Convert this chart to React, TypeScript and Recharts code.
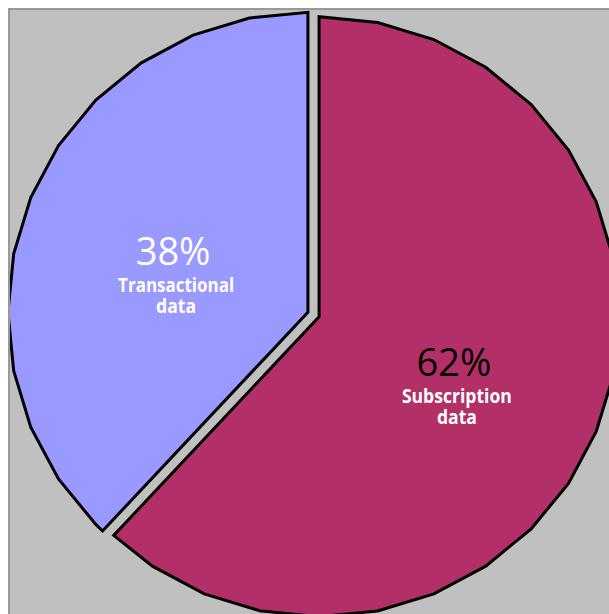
import { PieChart, Pie, Cell } from 'recharts';

const categories = ['Subscription data', 'Transactional data'];
const shares = [62, 38];

const data = categories.map((name, i) => ({ name, value: shares[i] }));

const FILLS = ['#B23067', '#9999FF'];
const PCT_COLORS = ['#000000', '#FFFFFF'];
const EXPLODE = 6;
const STEP = 11.25; // the old-style pie is drawn as a 32-gon
const RAD = Math.PI / 180;

const polar = (cx: number, cy: number, r: number, a: number) => ({
  x: cx + Math.cos(-a * RAD) * r,
  y: cy + Math.sin(-a * RAD) * r,
});

function PolySlice(props: any) {
  const { cx, cy, outerRadius, startAngle, endAngle, midAngle, fill } = props;
  const off = polar(0, 0, EXPLODE, midAngle);
  const ox = cx + off.x;
  const oy = cy + off.y;
  const pts: { x: number; y: number }[] = [{ x: ox, y: oy }];
  pts.push(polar(ox, oy, outerRadius, startAngle));
  // vertices every STEP degrees, measured from the top
  const lo = Math.min(startAngle, endAngle);
  const hi = Math.max(startAngle, endAngle);
  const dir = endAngle < startAngle ? -1 : 1;
  const angles: number[] = [];
  for (let k = -40; k <= 40; k++) {
    const a = 90 + k * STEP;
    if (a > lo + 0.01 && a < hi - 0.01) angles.push(a);
  }
  angles.sort((a, b) => (dir < 0 ? b - a : a - b));
  angles.forEach(a => pts.push(polar(ox, oy, outerRadius, a)));
  pts.push(polar(ox, oy, outerRadius, endAngle));
  const d = pts.map((p, i) => `${i ? 'L' : 'M'}${p.x},${p.y}`).join(' ') + ' Z';
  return <path d={d} fill={fill} stroke="#000" strokeWidth={3} strokeLinejoin="miter" />;
}

function renderLabel(props: any) {
  const { cx, cy, midAngle, index, percent, name } = props;
  const p = polar(cx, cy, EXPLODE + 145, midAngle);
  const x = p.x;
  const y = p.y + 6;
  const words = String(name).split(' ');
  return (
    <g style={{ fontFamily: '"Open Sans", sans-serif' }}>
      <text x={x} y={y} textAnchor="middle" fill={PCT_COLORS[index]} fontSize={38}>
        {`${Math.round(percent * 100)}%`}
      </text>
      <text x={x + 3} y={y + 27} textAnchor="middle" fill="#fff" fontSize={20} fontWeight="bold"
        textLength={index === 0 ? 110 : 116} lengthAdjust="spacingAndGlyphs">
        {words[0]}
      </text>
      <text x={x + 3} y={y + 48} textAnchor="middle" fill="#fff" fontSize={20} fontWeight="bold"
        textLength={40} lengthAdjust="spacingAndGlyphs">
        {words[1]}
      </text>
    </g>
  );
}

export default function App() {
  return (
    <div
      style={{
        position: 'fixed',
        left: 8,
        top: 8,
        width: 601,
        height: 606,
        overflow: 'hidden',
        boxSizing: 'border-box',
        background: '#C0C0C0',
        borderLeft: '2px solid #999999',
        borderTop: '2px solid #999999',
      }}
    >
      <PieChart width={620} height={620} margin={{ top: 0, right: 0, bottom: 0, left: 0 }}>
        <Pie
          data={data}
          dataKey="value"
          nameKey="name"
          cx={303.5}
          cy={304.5}
          outerRadius={300}
          startAngle={90}
          endAngle={-270}
          stroke="none"
          shape={PolySlice}
          inactiveShape={PolySlice}
          activeShape={PolySlice}
          label={renderLabel}
          labelLine={false}
          isAnimationActive={false}
        >
          {data.map((d, i) => (
            <Cell key={d.name} fill={FILLS[i]} />
          ))}
        </Pie>
      </PieChart>
    </div>
  );
}
